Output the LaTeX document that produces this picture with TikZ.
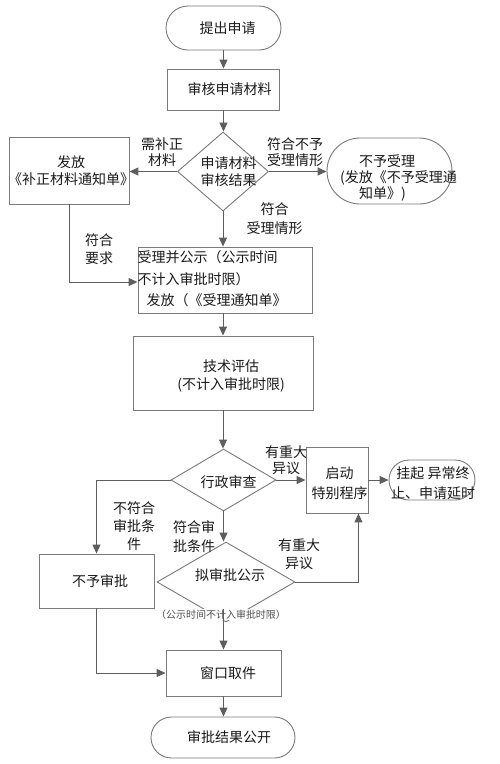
\documentclass[tikz,border=0pt]{standalone}
\usepackage{fontspec}
\setmainfont{Noto Sans CJK SC}
\usetikzlibrary{arrows.meta,shapes.geometric,calc}
\definecolor{linec}{HTML}{5E5E5E}
\definecolor{edgec}{HTML}{7A7A7A}
\definecolor{txtc}{HTML}{1A1A1A}
\definecolor{smallc}{HTML}{505050}
\begin{document}
\begin{tikzpicture}[x=1pt,y=-1pt,
  every node/.style={text=txtc},
  fig/.style={draw=edgec, line width=0.9pt, fill=white, inner sep=0pt, align=center,
    font=\fontsize{14}{17}\selectfont},
  boxs/.style={fig, rectangle},
  term/.style={fig, rectangle, rounded corners=#1},
  dia/.style={fig, diamond},
  txt/.style={inner sep=0pt, align=center, font=\fontsize{14}{17}\selectfont},
  lbl/.style={inner sep=0pt, align=center, font=\fontsize{14}{17}\selectfont},
  conn/.style={draw=linec, line width=1pt, -{Triangle[length=9pt,width=8pt]}},
  plain/.style={draw=linec, line width=1pt}
]
\useasboundingbox (0,0) rectangle (499,764);
\fill[white] (0,0) rectangle (499,764);

% shapes
\node[term=22pt, minimum width=115pt, minimum height=44pt] (start) at (223.5,28) {\hspace*{8pt}提出申请};
\node[boxs, minimum width=112pt, minimum height=41pt] (check) at (223.5,89.5) {\hspace*{12pt}审核申请材料};
\node[dia, minimum width=91pt, minimum height=79pt] (d1) at (223,171.5) {};
\node[txt] (d1t) at (228.5,172) {申请材料\\审核结果};
\node[boxs, minimum width=120pt, minimum height=67pt] (supp) at (69,170.5) {};
\node[txt] (suppt) at (71,171) {发放\\\makebox[100pt][c]{《补正材料通知单》}};
\node[term=33pt, minimum width=125pt, minimum height=66pt] (rej) at (389.5,171) {};
\node[txt, align=left, anchor=west, font=\fontsize{14}{16}\selectfont] (rejt) at (340,178)
  {\hspace*{19pt}不予受理\\(发放《不予受理通\\\hspace*{19pt}知单》)};
\node[boxs, minimum width=174pt, minimum height=66pt] (acc) at (225,280) {};
\node[txt, align=left, anchor=west, font=\fontsize{14}{21.5}\selectfont] (acct) at (137.5,279)
  {受理并公示（公示时间\\不计入审批时限）\\\hspace*{9pt}发放（《受理通知单》};
\node[boxs, minimum width=180pt, minimum height=74pt] (tech) at (223,373) {};
\node[txt, font=\fontsize{14}{18}\selectfont] (techt) at (231,376) {技术评估\\(不计入审批时限)};
\node[dia, minimum width=105pt, minimum height=62pt] (rev) at (223.5,480) {};
\node[txt] (revt) at (228.5,482) {行政审查};
\node[boxs, minimum width=62pt, minimum height=66pt] (spec) at (337,480) {};
\node[txt, font=\fontsize{14}{20}\selectfont] (spect) at (339.5,483) {启动\\特别程序};
\node[term=20pt, minimum width=86pt, minimum height=40pt] (hang) at (432,480) {};
\node[txt, font=\fontsize{14}{20}\selectfont] (hangt) at (433,483) {挂起 异常终\\止、申请延时};
\node[boxs, minimum width=115pt, minimum height=54pt] (deny) at (96.5,581) {\hspace*{7pt}不予审批};
\node[dia, minimum width=138pt, minimum height=80pt] (ni) at (226,582) {};
\node[txt] (nit) at (230,575) {拟审批公示};
\node[fill=white, inner sep=1pt, text=smallc, font=\fontsize{10}{12}\selectfont] (nil) at (221,614.5) {（公示时间不计入审批时限）};
\node[boxs, minimum width=115pt, minimum height=46pt] (pick) at (223.5,673) {\hspace*{9pt}窗口取件};
\node[term=20.5pt, minimum width=144pt, minimum height=41pt] (fin) at (223,737.5) {\hspace*{12pt}审批结果公开};

\coordinate (spin) at ([xshift=-10pt]spec.south east);

% connectors
\draw[conn] (start.south) -- (start.south |- check.north);
\draw[conn] (check.south) -- (check.south |- d1.north);
\draw[conn] (d1.west) -- (d1.west -| supp.east);
\draw[conn] (d1.east) -- (d1.east -| rej.west);
\draw[conn] (d1.south) -- (d1.south |- acc.north);
\draw[conn] (supp.south) |- ([yshift=-2pt]acc.west);
\draw[conn] (acc.south -| tech.north) -- (tech.north);
\draw[conn] (tech.south) -- (tech.south |- rev.north);
\draw[conn] (rev.east) -- (rev.east -| spec.west);
\draw[conn] (spec.east) -- (spec.east -| hang.west);
\draw[conn] (rev.west) -| (deny.north);
\draw[conn] (rev.south) -- (rev.south |- ni.north);
\draw[conn] (ni.east) -| (spin);
\draw[conn] (pick.north |- nil.north) -- (pick.north);
\draw[conn] (deny.south) |- (pick.west);
\draw[conn] (pick.south) -- (pick.south |- fin.north);

% labels
\node[lbl, font=\fontsize{14}{16}\selectfont] (l1) at (162,152) {需补正\\材料};
\node[lbl, font=\fontsize{14}{16}\selectfont] (l2) at (295,152.5) {符合不予\\受理情形};
\node[lbl, font=\fontsize{14}{19}\selectfont] (l3) at (274.5,219) {符合\\受理情形};
\node[lbl, font=\fontsize{14}{18}\selectfont] (l4) at (99,249.5) {符合\\要求};
\node[lbl, font=\fontsize{14}{16}\selectfont] (l5) at (286,460.5) {有重大\\异议};
\node[lbl, font=\fontsize{14}{18}\selectfont] (l6) at (134,526.5) {不符合\\审批条\\件};
\node[lbl, font=\fontsize{14}{19}\selectfont] (l7) at (194,537) {符合审\\批条件};
\node[lbl, font=\fontsize{14}{18}\selectfont] (l8) at (299,554.5) {有重大\\异议};
\end{tikzpicture}
\end{document}
